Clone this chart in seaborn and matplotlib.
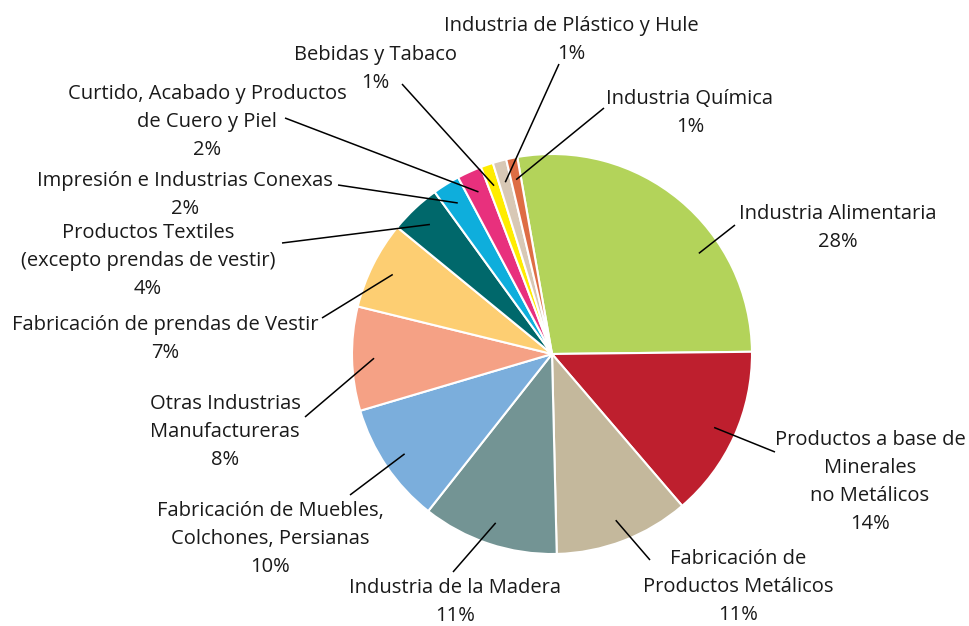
import numpy as np
import matplotlib
matplotlib.use("Agg")
import matplotlib.pyplot as plt
import seaborn as sns

# Data (clockwise from the top)
categories = [
    "Industria Alimentaria",
    "Productos a base de\nMinerales\nno Metálicos",
    "Fabricación de\nProductos Metálicos",
    "Industria de la Madera",
    "Fabricación de Muebles,\nColchones, Persianas",
    "Otras Industrias\nManufactureras",
    "Fabricación de prendas de Vestir",
    "Productos Textiles\n(excepto prendas de vestir)",
    "Impresión e Industrias Conexas",
    "Curtido, Acabado y Productos\nde Cuero y Piel",
    "Bebidas y Tabaco",
    "Industria de Plástico y Hule",
    "Industria Química",
]
values = [27.6, 13.9, 10.9, 11.0, 9.8, 8.4, 7.1, 4.1, 2.2, 2.0, 1.0, 1.1, 0.9]
colors = ["#B3D35A", "#BE1F2E", "#C4B89C", "#739494", "#7BAEDC", "#F5A185",
          "#FDCE72", "#00686B", "#0EAEDC", "#E8307D", "#FFEC00", "#D8C8B5",
          "#DE6D44"]

# Label block centres and leader-line end points (pixels)
label_xy = [(838, 228), (870, 482), (738, 587), (455, 602), (270, 539),
            (225, 432), (165, 339), (148, 261), (185, 195), (207, 122),
            (375, 69), (571, 40), (690, 113)]
leader_end = [(735, 225), (775, 452), (650, 560), (453, 572), (350, 495),
              (305, 417), (322, 318), (282, 243), (338, 185), (285, 118),
              (402, 84), (559, 64), (604, 108)]
# where along each wedge the leader starts (fraction of the wedge angle)
anchor_frac = [0.66, 0.5, 0.5, 0.5, 0.5, 0.5, 0.5, 0.5, 0.5, 0.5, 0.5, 0.5, 0.5]

W, H = 969, 626
CX, CY, R = 552, 354, 200


def to_data(p):
    return ((p[0] - CX) / R, (CY - p[1]) / R)


sns.set_theme(style="white")
plt.rcParams['font.family'] = ['Open Sans', 'DejaVu Sans']

fig = plt.figure(figsize=(W / 100, H / 100), dpi=100)
ax = fig.add_axes([0, 0, 1, 1])

wedges, _ = ax.pie(values, colors=colors, startangle=100, counterclock=False,
                   radius=1, wedgeprops=dict(edgecolor="white", linewidth=1.5))

ax.set_xlim(-CX / R, (W - CX) / R)
ax.set_ylim(-(H - CY) / R, CY / R)
ax.set_aspect("equal")
ax.axis("off")

for w, cat, val, lxy, lend, fr in zip(wedges, categories, values, label_xy,
                                      leader_end, anchor_frac):
    # wedges run clockwise: theta2 is the start, theta1 the end
    ang = np.deg2rad(w.theta2 - fr * (w.theta2 - w.theta1))
    anchor = (0.89 * np.cos(ang), 0.89 * np.sin(ang))
    ax.plot([anchor[0], to_data(lend)[0]], [anchor[1], to_data(lend)[1]],
            color="black", lw=1.1, solid_capstyle="butt")
    tx, ty = to_data(lxy)
    ax.text(tx, ty, f"{cat}\n{val:.0f}%", ha="center", va="center",
            fontsize=14.5, color="#1a1a1a", linespacing=1.52)

fig.savefig("out.png", dpi=100)
